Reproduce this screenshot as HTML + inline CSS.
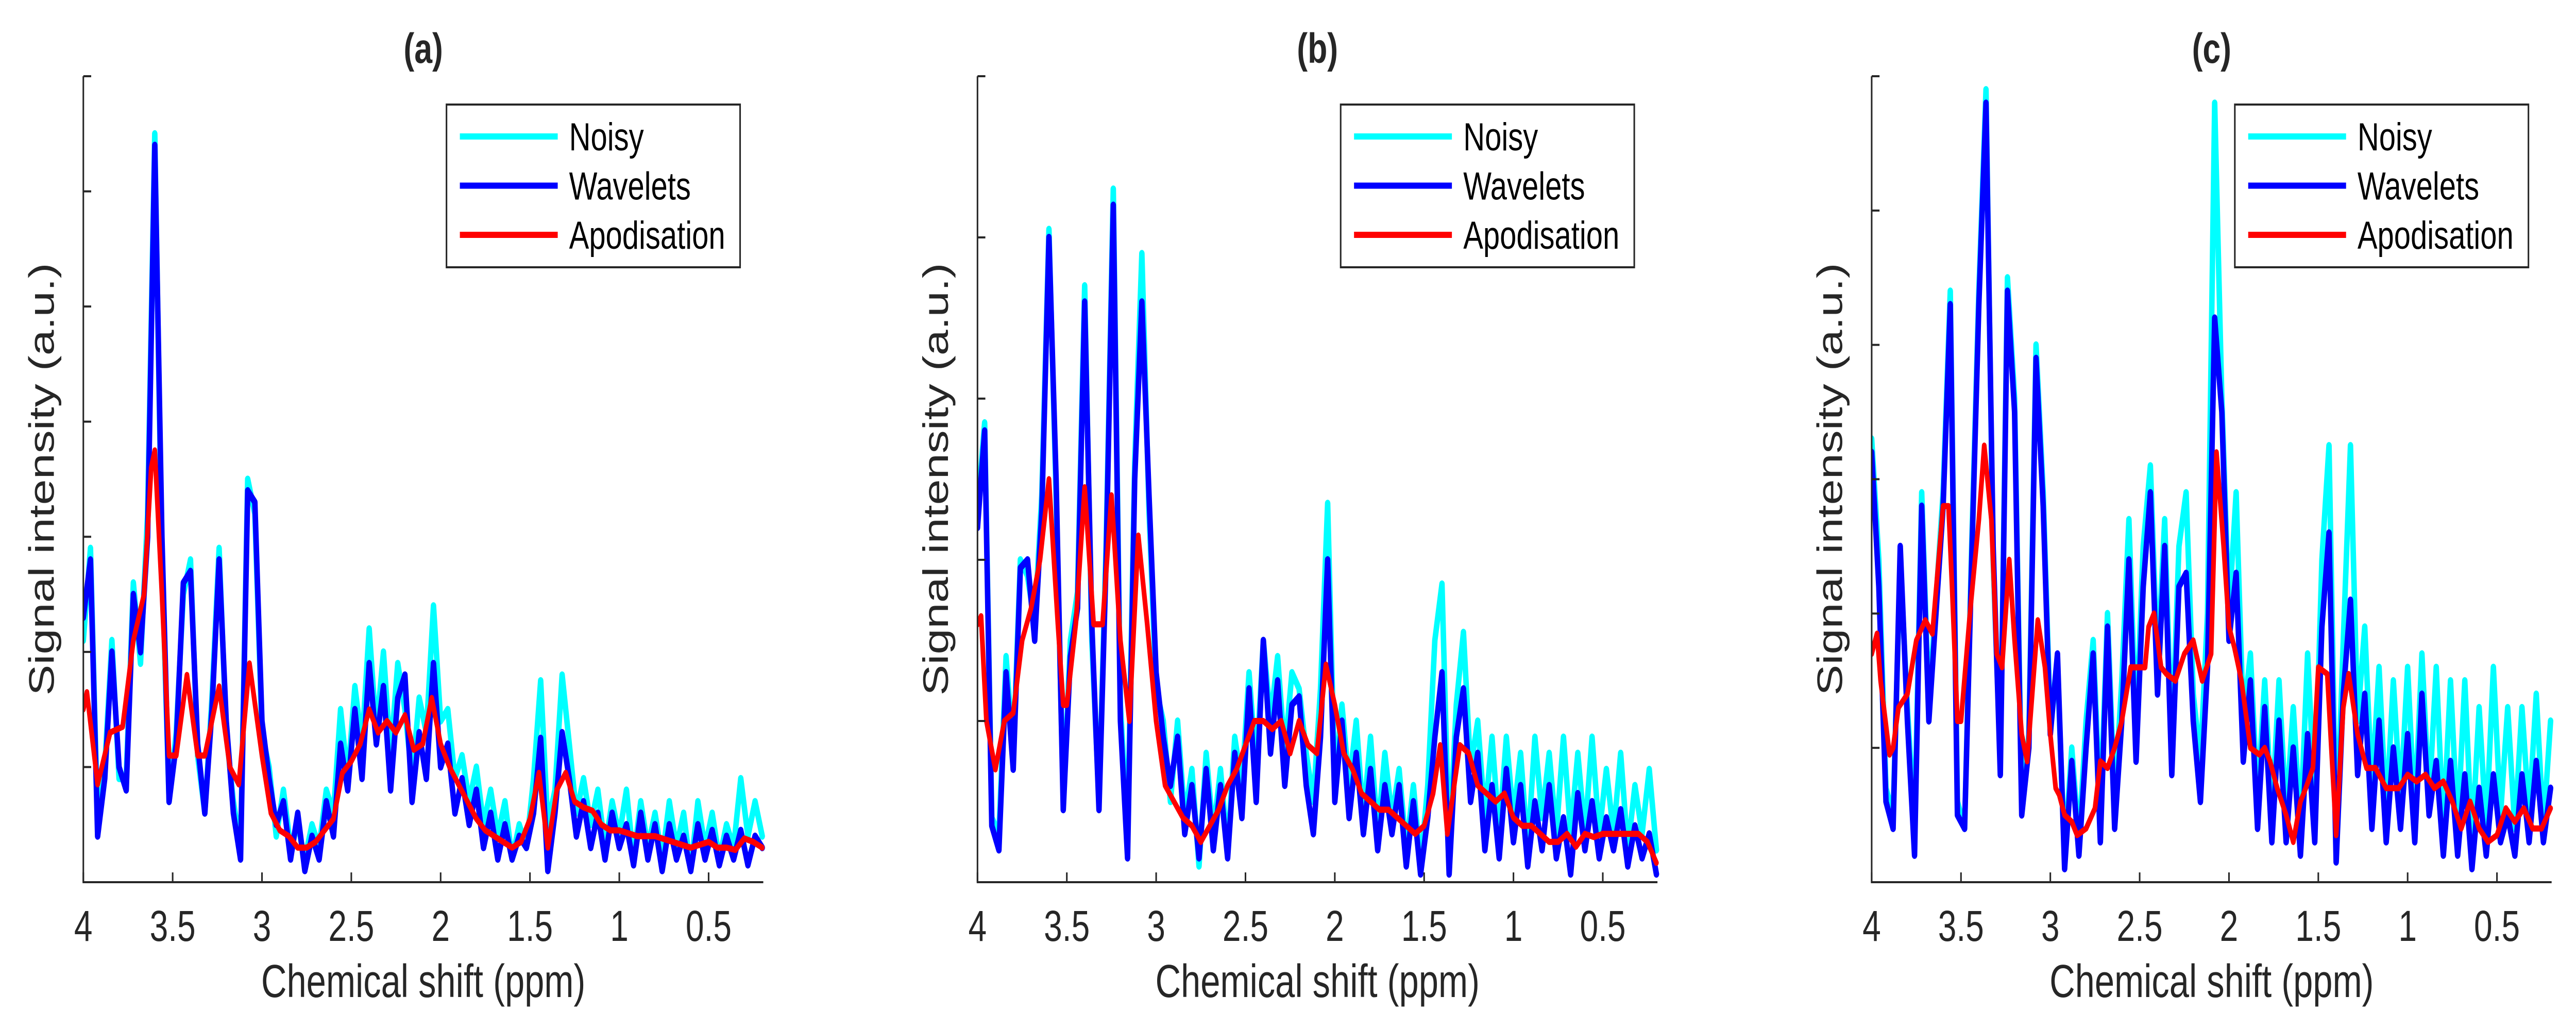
<!DOCTYPE html>
<html><head><meta charset="utf-8">
<style>
html,body{margin:0;padding:0;background:#fff;overflow:hidden;width:100%;height:100%;}
svg{display:block;width:100vw;height:100vh;}
text{font-family:"Liberation Sans",Arial,sans-serif;fill:#262626;}
</style></head>
<body>
<svg id="fig" viewBox="0 0 6554 1967" preserveAspectRatio="none" xmlns="http://www.w3.org/2000/svg"></svg>
<script>
// ---------- DATA ----------
const xTicks = [4, 3.5, 3, 2.5, 2, 1.5, 1, 0.5];
const xTickLabels = ['4','3.5','3','2.5','2','1.5','1','0.5'];
const panelTitles = ['(a)','(b)','(c)'];
const legendLabels = ['Noisy','Wavelets','Apodisation'];
const yTickCounts = [7, 5, 6];
// grid for wavelets / noisy: ppm 4.00 down to 0.20 step 0.04
const gridStart = 4.0, gridStep = 0.04;

const noisyA = [2.1,2.9,0.5,1.0,2.1,0.9,0.9,2.6,1.9,3.2,6.5,2.8,0.7,1.3,2.5,2.8,1.1,0.6,1.6,2.9,1.3,0.7,0.3,3.5,3.2,1.3,1.0,0.4,0.8,0.3,0.5,0.2,0.5,0.3,0.8,0.6,1.5,0.9,1.7,1.2,2.2,1.3,2.0,1.1,1.9,1.5,0.9,1.6,1.3,2.4,1.4,1.5,0.9,1.1,0.7,1.0,0.5,0.8,0.4,0.7,0.2,0.5,0.3,0.9,1.75,0.5,0.8,1.8,1.2,0.6,0.9,0.5,0.8,0.3,0.7,0.4,0.8,0.2,0.7,0.3,0.6,0.2,0.7,0.3,0.6,0.1,0.7,0.3,0.6,0.2,0.5,0.3,0.9,0.4,0.7,0.4];
const waveA = [2.3,2.8,0.4,0.9,2.0,1.0,0.8,2.5,2.0,3.0,6.4,3.0,0.7,1.2,2.6,2.7,1.2,0.6,1.5,2.8,1.4,0.6,0.2,3.4,3.3,1.4,0.9,0.5,0.7,0.2,0.6,0.1,0.4,0.2,0.7,0.4,1.2,0.8,1.5,0.9,1.9,1.2,1.7,0.8,1.6,1.8,0.7,1.3,0.9,1.9,1.0,1.2,0.6,0.9,0.5,0.8,0.3,0.6,0.2,0.5,0.2,0.4,0.3,0.6,1.25,0.1,0.6,1.3,0.9,0.4,0.7,0.3,0.6,0.2,0.6,0.3,0.5,0.15,0.6,0.2,0.5,0.1,0.5,0.2,0.4,0.1,0.5,0.2,0.45,0.15,0.4,0.2,0.45,0.15,0.4,0.3];
const apodPpmA = [4.0,3.98,3.92,3.85,3.78,3.72,3.66,3.62,3.6,3.56,3.52,3.48,3.42,3.36,3.32,3.24,3.18,3.13,3.07,3.0,2.95,2.9,2.85,2.8,2.75,2.7,2.65,2.6,2.55,2.5,2.45,2.4,2.35,2.3,2.25,2.2,2.15,2.1,2.05,2.0,1.95,1.9,1.85,1.8,1.75,1.7,1.65,1.6,1.55,1.5,1.45,1.4,1.35,1.3,1.25,1.2,1.15,1.1,1.05,1.0,0.9,0.8,0.7,0.6,0.5,0.45,0.4,0.35,0.3,0.25,0.2];
const apodA = [1.5,1.65,0.85,1.3,1.35,2.1,2.5,3.6,3.75,2.5,1.1,1.1,1.8,1.1,1.1,1.7,1.0,0.85,1.9,1.1,0.6,0.45,0.4,0.3,0.3,0.35,0.45,0.55,0.95,1.05,1.2,1.5,1.3,1.4,1.3,1.45,1.15,1.2,1.6,1.2,1.0,0.85,0.7,0.55,0.45,0.4,0.35,0.3,0.35,0.55,0.95,0.3,0.8,0.95,0.7,0.65,0.62,0.5,0.45,0.45,0.4,0.4,0.35,0.3,0.35,0.3,0.3,0.28,0.38,0.35,0.3];

const noisyB = [2.3,2.85,0.4,0.3,1.4,0.8,2.0,1.9,1.6,2.4,4.05,2.4,0.5,1.5,1.8,3.7,1.5,0.5,2.1,4.3,1.1,0.3,2.6,3.9,2.3,1.2,1.0,0.5,1.0,0.4,0.7,0.1,0.8,0.3,0.7,0.2,0.9,0.6,1.3,0.7,1.5,1.0,1.4,0.8,1.3,1.2,0.8,0.5,1.2,2.35,0.6,1.1,0.6,1.0,0.4,0.9,0.3,0.8,0.4,0.7,0.2,0.6,0.1,0.6,1.5,1.85,0.2,1.1,1.55,0.7,1.0,0.4,0.9,0.3,0.9,0.4,0.8,0.2,0.9,0.4,0.8,0.3,0.9,0.3,0.8,0.3,0.9,0.3,0.7,0.3,0.8,0.2,0.6,0.3,0.7,0.2];
const waveB = [2.2,2.8,0.35,0.2,1.3,0.7,1.95,2.0,1.5,2.3,4.0,2.5,0.45,1.4,1.7,3.6,1.6,0.45,2.0,4.2,1.0,0.15,2.5,3.6,2.4,1.3,0.9,0.6,0.9,0.3,0.6,0.15,0.7,0.2,0.6,0.15,0.8,0.4,1.2,0.5,1.5,0.8,1.25,0.6,1.1,1.15,0.6,0.3,0.9,2.0,0.5,1.0,0.4,0.8,0.3,0.7,0.2,0.6,0.3,0.6,0.1,0.5,0.05,0.4,0.9,1.3,0.05,0.9,1.2,0.5,0.8,0.2,0.6,0.15,0.7,0.25,0.6,0.1,0.5,0.2,0.6,0.15,0.4,0.05,0.55,0.2,0.5,0.15,0.4,0.2,0.45,0.1,0.35,0.15,0.3,0.05];
const apodPpmB = [4.0,3.98,3.95,3.9,3.85,3.8,3.75,3.7,3.65,3.6,3.55,3.52,3.5,3.45,3.4,3.35,3.3,3.25,3.2,3.15,3.1,3.05,3.0,2.95,2.9,2.85,2.8,2.75,2.7,2.65,2.6,2.55,2.5,2.45,2.4,2.35,2.3,2.25,2.2,2.15,2.1,2.05,2.0,1.95,1.9,1.85,1.8,1.75,1.7,1.65,1.6,1.55,1.5,1.45,1.41,1.37,1.3,1.25,1.2,1.15,1.1,1.05,1.0,0.95,0.9,0.85,0.8,0.75,0.7,0.65,0.6,0.55,0.5,0.45,0.4,0.35,0.3,0.25,0.2];
const apodB = [1.6,1.65,1.0,0.7,1.0,1.05,1.5,1.7,2.0,2.5,1.6,1.1,1.1,1.6,2.45,1.6,1.6,2.4,1.5,1.0,2.15,1.6,1.0,0.6,0.5,0.4,0.35,0.25,0.35,0.45,0.6,0.7,0.85,1.0,1.0,0.95,1.0,0.8,1.0,0.85,0.8,1.35,1.1,0.8,0.7,0.55,0.5,0.45,0.45,0.4,0.35,0.3,0.35,0.55,0.85,0.3,0.85,0.8,0.6,0.55,0.5,0.55,0.4,0.35,0.35,0.3,0.25,0.25,0.3,0.22,0.3,0.28,0.3,0.3,0.3,0.3,0.3,0.25,0.12];

const noisyC = [3.3,2.4,0.7,0.5,2.4,1.3,0.4,2.9,1.3,2.1,2.9,4.4,0.6,0.4,2.5,4.4,5.9,2.4,0.9,4.5,3.6,0.6,1.1,4.0,2.9,1.2,1.6,0.2,1.0,0.3,1.2,1.8,0.5,2.0,0.6,1.5,2.7,1.1,2.5,3.1,1.6,2.7,1.0,2.5,2.9,1.4,0.9,2.0,5.8,3.6,2.0,2.9,1.2,1.7,0.6,1.5,0.5,1.5,0.5,1.3,0.4,1.7,0.6,2.4,3.25,0.3,1.8,3.25,1.2,1.9,0.7,1.6,0.5,1.5,0.6,1.6,0.5,1.7,0.6,1.6,0.4,1.5,0.4,1.5,0.3,1.3,0.4,1.6,0.5,1.3,0.4,1.3,0.5,1.4,0.4,1.2];
const waveC = [3.2,2.2,0.6,0.4,2.5,1.2,0.2,2.8,1.2,2.0,2.8,4.3,0.5,0.4,2.4,4.3,5.8,2.5,0.8,4.4,3.5,0.5,1.0,3.9,2.8,1.1,1.7,0.1,0.9,0.2,1.0,1.7,0.3,1.9,0.4,1.2,2.4,0.9,2.2,2.9,1.4,2.5,0.8,2.2,2.3,1.2,0.6,1.6,4.2,3.5,1.8,2.3,0.9,1.5,0.4,1.3,0.3,1.2,0.3,1.0,0.2,1.1,0.3,1.9,2.6,0.15,1.4,2.1,0.8,1.4,0.4,1.2,0.3,1.0,0.4,1.1,0.3,1.4,0.5,0.9,0.2,0.9,0.2,0.8,0.1,0.7,0.2,0.8,0.3,0.5,0.2,0.8,0.3,0.9,0.3,0.7];
const apodPpmC = [4.0,3.97,3.95,3.9,3.88,3.85,3.8,3.75,3.7,3.66,3.6,3.57,3.55,3.52,3.5,3.45,3.4,3.37,3.33,3.3,3.27,3.23,3.2,3.16,3.13,3.07,3.03,3.0,2.97,2.95,2.92,2.88,2.85,2.8,2.75,2.72,2.68,2.64,2.6,2.55,2.5,2.47,2.45,2.42,2.38,2.35,2.3,2.25,2.2,2.15,2.1,2.07,2.03,2.0,1.97,1.93,1.88,1.83,1.8,1.77,1.73,1.68,1.64,1.6,1.57,1.53,1.5,1.45,1.4,1.36,1.33,1.28,1.23,1.18,1.12,1.05,1.0,0.95,0.9,0.85,0.8,0.75,0.7,0.65,0.6,0.55,0.5,0.45,0.4,0.35,0.3,0.25,0.2];
const apodC = [1.7,1.85,1.5,0.95,1.0,1.3,1.4,1.8,1.95,1.85,2.8,2.8,2.2,1.2,1.2,2.0,2.7,3.25,2.7,1.7,1.6,2.4,1.8,1.1,0.9,1.95,1.6,1.1,0.7,0.65,0.5,0.45,0.35,0.4,0.55,0.9,0.85,1.0,1.2,1.6,1.6,1.6,1.9,2.0,1.6,1.55,1.5,1.7,1.8,1.5,1.7,3.2,2.5,1.9,1.75,1.5,1.0,0.95,1.0,0.9,0.7,0.5,0.3,0.6,0.7,0.85,1.6,1.55,0.35,1.3,1.55,1.1,0.85,0.85,0.7,0.7,0.8,0.75,0.8,0.7,0.75,0.6,0.4,0.6,0.4,0.3,0.35,0.55,0.45,0.55,0.4,0.4,0.55];

const panels = [
  {noisy: noisyA, wave: waveA, apodPpm: apodPpmA, apod: apodA},
  {noisy: noisyB, wave: waveB, apodPpm: apodPpmB, apod: apodB},
  {noisy: noisyC, wave: waveC, apodPpm: apodPpmC, apod: apodC}
];

// ---------- LAYOUT ----------
const NS = 'http://www.w3.org/2000/svg';
const svg = document.getElementById('fig');
const axLefts = [212, 2487, 4762];
const axW = 1730, axTop = 148, axBot = 1713;
const xMax = 4.0, xMin = 0.194;
const colors = {noisy:'#00ffff', wave:'#0000ff', apod:'#ff0000'};

function mk(tag, attrs, parent){
  const e = document.createElementNS(NS, tag);
  for (const k in attrs) e.setAttribute(k, attrs[k]);
  (parent||svg).appendChild(e);
  return e;
}

panels.forEach((p, pi) => {
  const L = axLefts[pi];
  const nT = yTickCounts[pi];
  const xs = v => L + (xMax - v) / (xMax - xMin) * axW;
  const ys = v => axBot - v / nT * (axBot - axTop);

  const g = mk('g', {});
  
  

  const clipId = 'clip' + pi;
  const cp = mk('clipPath', {id: clipId}, g);
  mk('rect', {x: L, y: axTop - 20, width: axW + 8, height: axBot - axTop + 20}, cp);

  const plot = mk('g', {'clip-path': 'url(#' + clipId + ')'}, g);
  
  

  function gridPath(arr){
    let d = '';
    arr.forEach((v, i) => { const ppm = gridStart - gridStep * i; d += (i ? 'L' : 'M') + xs(ppm).toFixed(1) + ' ' + ys(v).toFixed(1); });
    return d;
  }
  const pn = mk('path', {d: gridPath(p.noisy), fill:'none', stroke: colors.noisy, 'stroke-width': 14, 'stroke-linejoin':'round', 'stroke-linecap':'round'}, plot);
  
  
  const pw = mk('path', {d: gridPath(p.wave), fill:'none', stroke: colors.wave, 'stroke-width': 14, 'stroke-linejoin':'round', 'stroke-linecap':'round'}, plot);
  
  
  let d = '';
  p.apod.forEach((v, i) => { d += (i ? 'L' : 'M') + xs(p.apodPpm[i]).toFixed(1) + ' ' + ys(v).toFixed(1); });
  const pa = mk('path', {d: d, fill:'none', stroke: colors.apod, 'stroke-width': 12, 'stroke-linejoin':'round', 'stroke-linecap':'round'}, plot);
  
  

  // axes
  const ax = mk('path', {d: 'M' + L + ' ' + axTop + 'L' + L + ' ' + axBot + 'L' + (L + axW) + ' ' + axBot, fill:'none', stroke:'#262626', 'stroke-width': 4}, g);
  
  
  for (let t = 1; t <= nT; t++) {
    const yt = ys(t);
    const tk = mk('line', {x1: L, x2: L + 20, y1: yt, y2: yt, stroke:'#262626', 'stroke-width': 4}, g);
    
    
  }
  xTicks.forEach((t, i) => {
    const xt = xs(t);
    const tk = mk('line', {x1: xt, x2: xt, y1: axBot, y2: axBot - 19, stroke:'#262626', 'stroke-width': 4}, g);
    
    
    const tl = mk('text', {x: xt, y: 1827, 'font-size': 84, 'text-anchor':'middle'}, g);
    tl.textContent = xTickLabels[i];
    
    
  });
  const xl = mk('text', {x: L + axW / 2, y: 1936, 'font-size': 90, 'text-anchor':'middle'}, g);
  xl.textContent = 'Chemical shift (ppm)';
  
  
  const yl = mk('text', {x: 0, y: 0, 'font-size': 90, 'text-anchor':'middle', transform: 'translate(' + (L - 75) + ',' + ((axTop + axBot) / 2) + ') rotate(-90)'}, g);
  yl.textContent = 'Signal intensity (a.u.)';
  
  
  const ti = mk('text', {x: L + axW / 2, y: 122, 'font-size': 82, 'font-weight':'bold', 'text-anchor':'middle'}, g);
  ti.textContent = panelTitles[pi];
  
  

  // legend
  const lg = mk('g', {}, g);
  
  
  const bx = L + axW - 59 - 747;
  mk('rect', {x: bx, y: 203, width: 747, height: 316, fill:'#fff', stroke:'#262626', 'stroke-width': 4}, lg);
  const lc = [colors.noisy, colors.wave, colors.apod];
  legendLabels.forEach((lab, i) => {
    const yy = 265 + i * 95.5;
    const ln = mk('line', {x1: bx + 34, x2: bx + 283, y1: yy, y2: yy, stroke: lc[i], 'stroke-width': 12}, lg);
    
    
    const tx = mk('text', {x: bx + 312, y: yy + 27, 'font-size': 76, style:'fill:#000'}, lg);
    tx.textContent = lab;
    
    
  });
});
</script>
</body></html>
